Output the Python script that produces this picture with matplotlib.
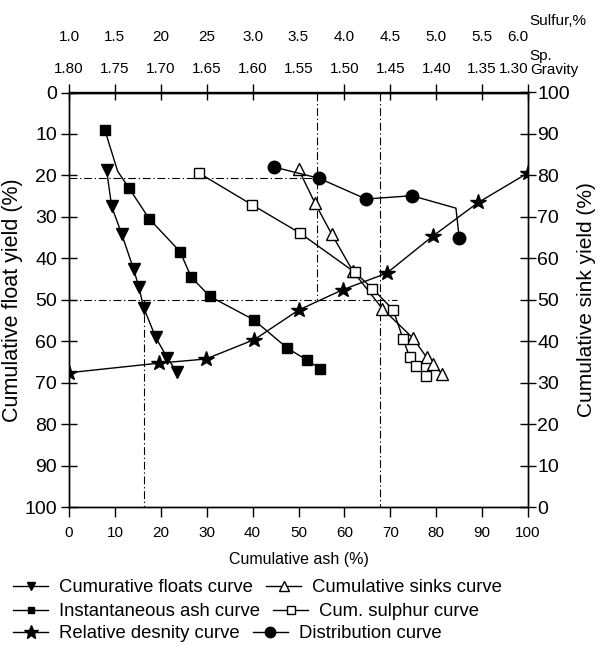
import matplotlib
matplotlib.use("Agg")
import matplotlib.pyplot as plt
from matplotlib.lines import Line2D

# 没有窄体, 用小一号的 Liberation Sans 代替
plt.rcParams['font.family'] = ['Liberation Sans', 'DejaVu Sans']
SMALL = 11

# data
floats_x = [8.2, 9.3, 11.5, 14.1, 15.2, 16.3, 18.9, 21.4, 23.5]
floats_y = [18.8, 27.5, 34.2, 42.7, 46.9, 52.0, 59.1, 64.0, 67.4]

ash_x = [7.8, 10.6, 13.1, 17.5, 24.2, 26.6, 30.7, 40.2, 47.6, 51.9, 54.7]
ash_y = [9.0, 19.0, 23.1, 30.5, 38.4, 44.5, 49.2, 54.8, 61.7, 64.6, 66.6]
ash_marks = [0, 2, 3, 4, 5, 6, 7, 8, 9, 10]

density_x = [0, 19.5, 29.8, 40.4, 50.0, 59.6, 69.2, 79.2, 89.2, 100]
density_y = [67.6, 65.3, 64.3, 59.6, 52.5, 47.6, 43.6, 34.7, 26.5, 19.4]

sinks_x = [50.0, 53.6, 57.2, 61.8, 68.3, 75.0, 77.9, 79.3, 81.3]
sinks_y = [18.5, 26.7, 34.1, 43.0, 52.2, 59.3, 63.9, 65.4, 67.9]

sulphur_x = [28.4, 39.9, 50.3, 62.3, 66.1, 70.6, 72.8, 74.2, 75.5, 77.7]
sulphur_y = [19.5, 27.1, 33.9, 43.4, 47.3, 52.4, 59.5, 63.8, 65.9, 68.3]

dist_x = [44.7, 54.5, 64.7, 74.7, 84.3, 85.0]
dist_y = [18.0, 20.7, 25.7, 24.9, 27.9, 35.0]
dist_marks = [0, 1, 2, 3, 5]

ticks = [0, 10, 20, 30, 40, 50, 60, 70, 80, 90, 100]
top_ticks = [0, 10, 20, 30, 40, 60, 70, 80, 90, 100]
sulfur_labels = ['1.0', '1.5', '20', '25', '3.0', '3.5', '4.0', '4.5', '5.0', '5.5', '6.0']
gravity_labels = ['1.80', '1.75', '1.70', '1.65', '1.60', '1.55', '1.50', '1.45', '1.40', '1.35', '1.30']

fig = plt.figure(figsize=(5.98, 6.47), dpi=100)
ax = fig.add_axes([69 / 598, 1 - 507 / 647, 459 / 598, 414.5 / 647])

lw = 1.0
ax.plot(floats_x, floats_y, color='black', lw=lw, marker='v', ms=8, zorder=3)
ax.plot(ash_x, ash_y, color='black', lw=lw, marker='s', ms=6.5, markevery=ash_marks, zorder=3)
ax.plot(density_x, density_y, color='black', lw=lw, marker='*', ms=11.5, zorder=3)
ax.plot(sinks_x, sinks_y, color='black', lw=lw, marker='^', ms=9, mfc='white', mew=1.0, zorder=3)
ax.plot(sulphur_x, sulphur_y, color='black', lw=lw, marker='s', ms=7.5, mfc='white', mew=1.0, zorder=4)
ax.plot(dist_x, dist_y, color='black', lw=lw, marker='o', ms=9, markevery=dist_marks, zorder=3)

# 辅助点划线
dd = (0, (7, 2.5, 1.2, 2.5))
ax.plot([0, 54], [20.6, 20.6], color='black', lw=0.8, ls=dd, zorder=2)
ax.plot([54, 54], [0, 50], color='black', lw=0.8, ls=dd, zorder=2)
ax.plot([0, 71.4], [50, 50], color='black', lw=0.8, ls=dd, zorder=2)
ax.plot([67.8, 67.8], [0, 100], color='black', lw=0.8, ls=dd, zorder=2)
ax.plot([16.3, 16.3], [50, 100], color='black', lw=0.8, ls=dd, zorder=2)

ax.set_xlim(0, 100)
ax.set_ylim(100, 0)
ax.set_xticks(ticks)
ax.set_xticklabels([str(t) for t in ticks], fontsize=SMALL)
ax.set_yticks(ticks)
ax.set_yticklabels([str(t) for t in ticks], fontsize=14)
ax.tick_params(axis='x', direction='out', length=7, width=1.0, pad=7)
ax.tick_params(axis='y', direction='inout', length=11, width=1.0, pad=3)
for s in ax.spines.values():
    s.set_linewidth(1.0)

top = ax.secondary_xaxis('top')
top.set_xticks(top_ticks)
top.set_xticklabels([])
top.tick_params(direction='inout', length=11, width=1.0)
top.spines['top'].set_linewidth(1.0)

ax.set_xlabel('Cumulative ash (%)', fontsize=SMALL + 0.5)
ax.xaxis.set_label_coords(0.5, -0.108)
ax.set_ylabel('Cumulative float yield (%)', fontsize=15.5)
ax.yaxis.set_label_coords(-0.1, 0.5)

# 顶部两行刻度
tr = ax.get_xaxis_transform()
for i, t in enumerate(ticks):
    ha = 'right' if t == 100 else 'center'
    ax.text(t, 1.133, sulfur_labels[i], transform=tr, ha=ha, va='center', fontsize=SMALL)
    ax.text(t, 1.056, gravity_labels[i], transform=tr, ha=ha, va='center', fontsize=SMALL)
ax.text(1.004, 1.172, 'Sulfur,%', transform=ax.transAxes, ha='left', va='center', fontsize=SMALL)
ax.text(1.004, 1.088, 'Sp.', transform=ax.transAxes, ha='left', va='center', fontsize=SMALL)
ax.text(1.004, 1.054, 'Gravity', transform=ax.transAxes, ha='left', va='center', fontsize=SMALL)

# 右侧轴
ax2 = ax.twinx()
ax2.set_ylim(0, 100)
ax2.set_yticks(ticks)
ax2.set_yticklabels([str(t) for t in ticks], fontsize=14)
ax2.tick_params(axis='y', direction='inout', length=11, width=1.0, pad=1)
ax2.set_ylabel('Cumulative sink yield (%)', fontsize=15)
ax2.yaxis.set_label_coords(1.106, 0.5)
for s in ax2.spines.values():
    s.set_linewidth(1.0)

# 图例: 三行, 每行两项
def h(marker, ms, mfc='black'):
    return Line2D([], [], color='black', lw=1.0, marker=marker, ms=ms, mfc=mfc, mew=1.0)

rows = [
    ([h('v', 6), h('^', 7, 'white')], ['Cumurative floats curve', 'Cumulative sinks curve'], 588),
    ([h('s', 5), h('s', 5.5, 'white')], ['Instantaneous ash curve', 'Cum. sulphur curve'], 612),
    ([h('*', 10), h('o', 7.5)], ['Relative desnity curve', 'Distribution curve'], 634),
]
for handles, labels, ypx in rows:
    fig.legend(handles, labels, ncol=2, loc='center left',
               bbox_to_anchor=(13 / 598, 1 - ypx / 647), bbox_transform=fig.transFigure,
               frameon=False, fontsize=13.3, handlelength=1.9, handletextpad=0.6,
               columnspacing=0.7, borderpad=0, borderaxespad=0)

fig.savefig('out.png', dpi=100)
